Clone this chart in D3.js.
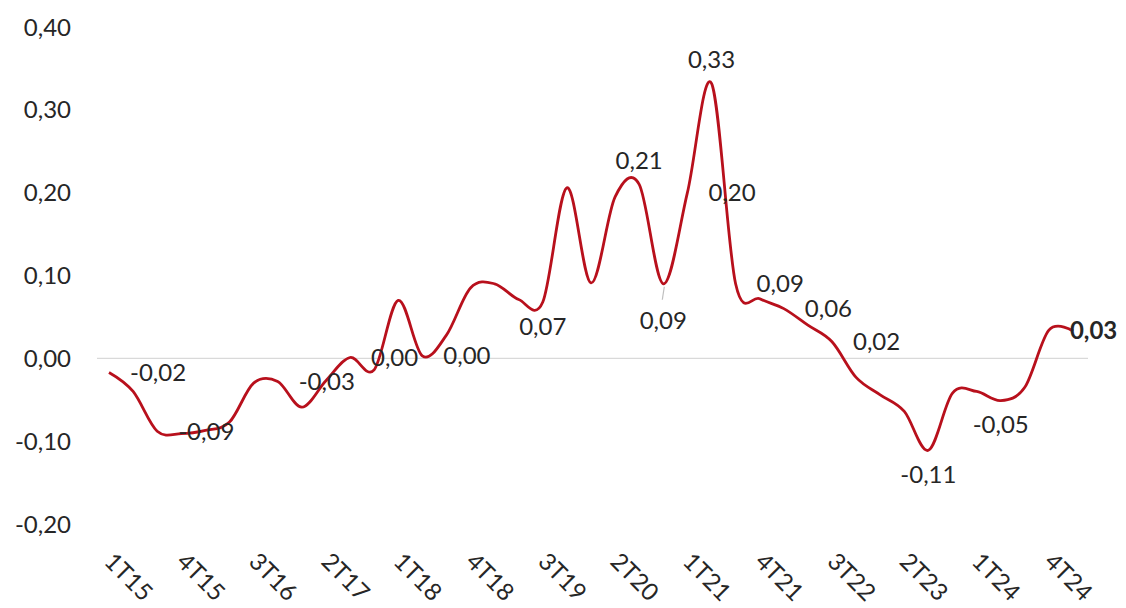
<!DOCTYPE html>
<html>
<head>
<meta charset="utf-8">
<script src="https://cdn.jsdelivr.net/npm/d3@7"></script>
<style>
    body { margin: 0; background: #fff; }
    text { font-family: Lato, "Open Sans", sans-serif; fill: #262626; }
</style>
</head>
<body>
<svg id="chart" width="1126" height="608"></svg>
<script>
// quarters 1T15 .. 1T25
var quarters = ["1T15", "2T15", "3T15", "4T15", "1T16", "2T16", "3T16", "4T16",
    "1T17", "2T17", "3T17", "4T17", "1T18", "2T18", "3T18", "4T18",
    "1T19", "2T19", "3T19", "4T19", "1T20", "2T20", "3T20", "4T20",
    "1T21", "2T21", "3T21", "4T21", "1T22", "2T22", "3T22", "4T22",
    "1T23", "2T23", "3T23", "4T23", "1T24", "2T24", "3T24", "4T24", "1T25"];

var values = [-0.017, -0.040, -0.088, -0.091, -0.087, -0.077, -0.030, -0.028,
    -0.059, -0.027, 0.001, -0.014, 0.070, 0.003, 0.028, 0.085,
    0.090, 0.071, 0.068, 0.206, 0.091, 0.195, 0.210, 0.090,
    0.200, 0.332, 0.090, 0.072, 0.060, 0.040, 0.020, -0.023,
    -0.044, -0.064, -0.111, -0.042, -0.040, -0.051, -0.035, 0.034, 0.033];

var tickLabels = ["1T15", "4T15", "3T16", "2T17", "1T18", "4T18", "3T19",
    "2T20", "1T21", "4T21", "3T22", "2T23", "1T24", "4T24"];

var yTicks = [-0.2, -0.1, 0, 0.1, 0.2, 0.3, 0.4];

// which points carry a data label, and where it sits
var labelIdx = [0, 2, 7, 10, 13, 18, 22, 23, 24, 25, 26, 28, 30, 34, 37, 39];
var labelPos = ["right", "right", "right", "right", "right", "below", "above", "leader",
    "right", "above", "right", "right", "right", "below", "below", "right"];

var svg = d3.select("#chart");

var locale = d3.formatLocale({ decimal: ",", thousands: ".", grouping: [3], currency: ["", " €"], minus: "-" });
var fmt = locale.format(".2f");

var x = d3.scalePoint()
    .domain(quarters)
    .range([109, 1073]);

var y = d3.scaleLinear()
    .domain([-0.2, 0.4])
    .range([524, 27]);

// zero line
svg.append("line")
    .attr("x1", 97)
    .attr("x2", 1088)
    .attr("y1", y(0))
    .attr("y2", y(0))
    .attr("stroke", "#d9d9d9")
    .attr("stroke-width", 1.2);

// y axis labels
svg.append("g")
    .selectAll("text")
    .data(yTicks)
    .join("text")
    .attr("x", 71)
    .attr("y", function (d) { return y(d); })
    .attr("dy", "0.36em")
    .attr("text-anchor", "end")
    .attr("font-size", "24px")
    .text(function (d) { return fmt(d); });

// x axis labels, rotated
svg.append("g")
    .selectAll("text")
    .data(tickLabels)
    .join("text")
    .attr("transform", function (d) {
        return "translate(" + (x(d) - 6) + ",563) rotate(45)";
    })
    .attr("text-anchor", "start")
    .attr("font-size", "24px")
    .text(function (d) { return d; });

// the line
var line = d3.line()
    .x(function (d, i) { return x(quarters[i]); })
    .y(function (d) { return y(d); })
    .curve(d3.curveCardinal.tension(0));

svg.append("path")
    .datum(values)
    .attr("d", line)
    .attr("fill", "none")
    .attr("stroke", "#b8101c")
    .attr("stroke-width", 2.8)
    .attr("stroke-linejoin", "round");

// data labels
var labels = labelIdx.map(function (idx, k) {
    return { i: idx, v: values[idx], pos: labelPos[k], last: k == labelIdx.length - 1 };
});

labels.filter(function (d) { return d.pos == "leader"; }).forEach(function (d) {
    svg.append("line")
        .attr("x1", x(quarters[d.i]) + 1)
        .attr("x2", x(quarters[d.i]) - 1)
        .attr("y1", y(d.v) + 3)
        .attr("y2", y(d.v) + 16)
        .attr("stroke", "#bfbfbf")
        .attr("stroke-width", 1.2);
});

svg.append("g")
    .selectAll("text")
    .data(labels)
    .join("text")
    .attr("x", function (d) {
        var px = x(quarters[d.i]);
        return d.pos == "right" ? px + 21 : px;
    })
    .attr("y", function (d) {
        var py = y(d.v);
        if (d.pos == "above") return py - 24;
        if (d.pos == "below") return py + 24;
        if (d.pos == "leader") return py + 37;
        return py;
    })
    .attr("dy", "0.36em")
    .attr("text-anchor", function (d) { return d.pos == "right" ? "start" : "middle"; })
    .attr("font-size", "24px")
    .attr("font-weight", function (d) { return d.last ? "bold" : "normal"; })
    .text(function (d) { return fmt(d.v); });
</script>
</body>
</html>
